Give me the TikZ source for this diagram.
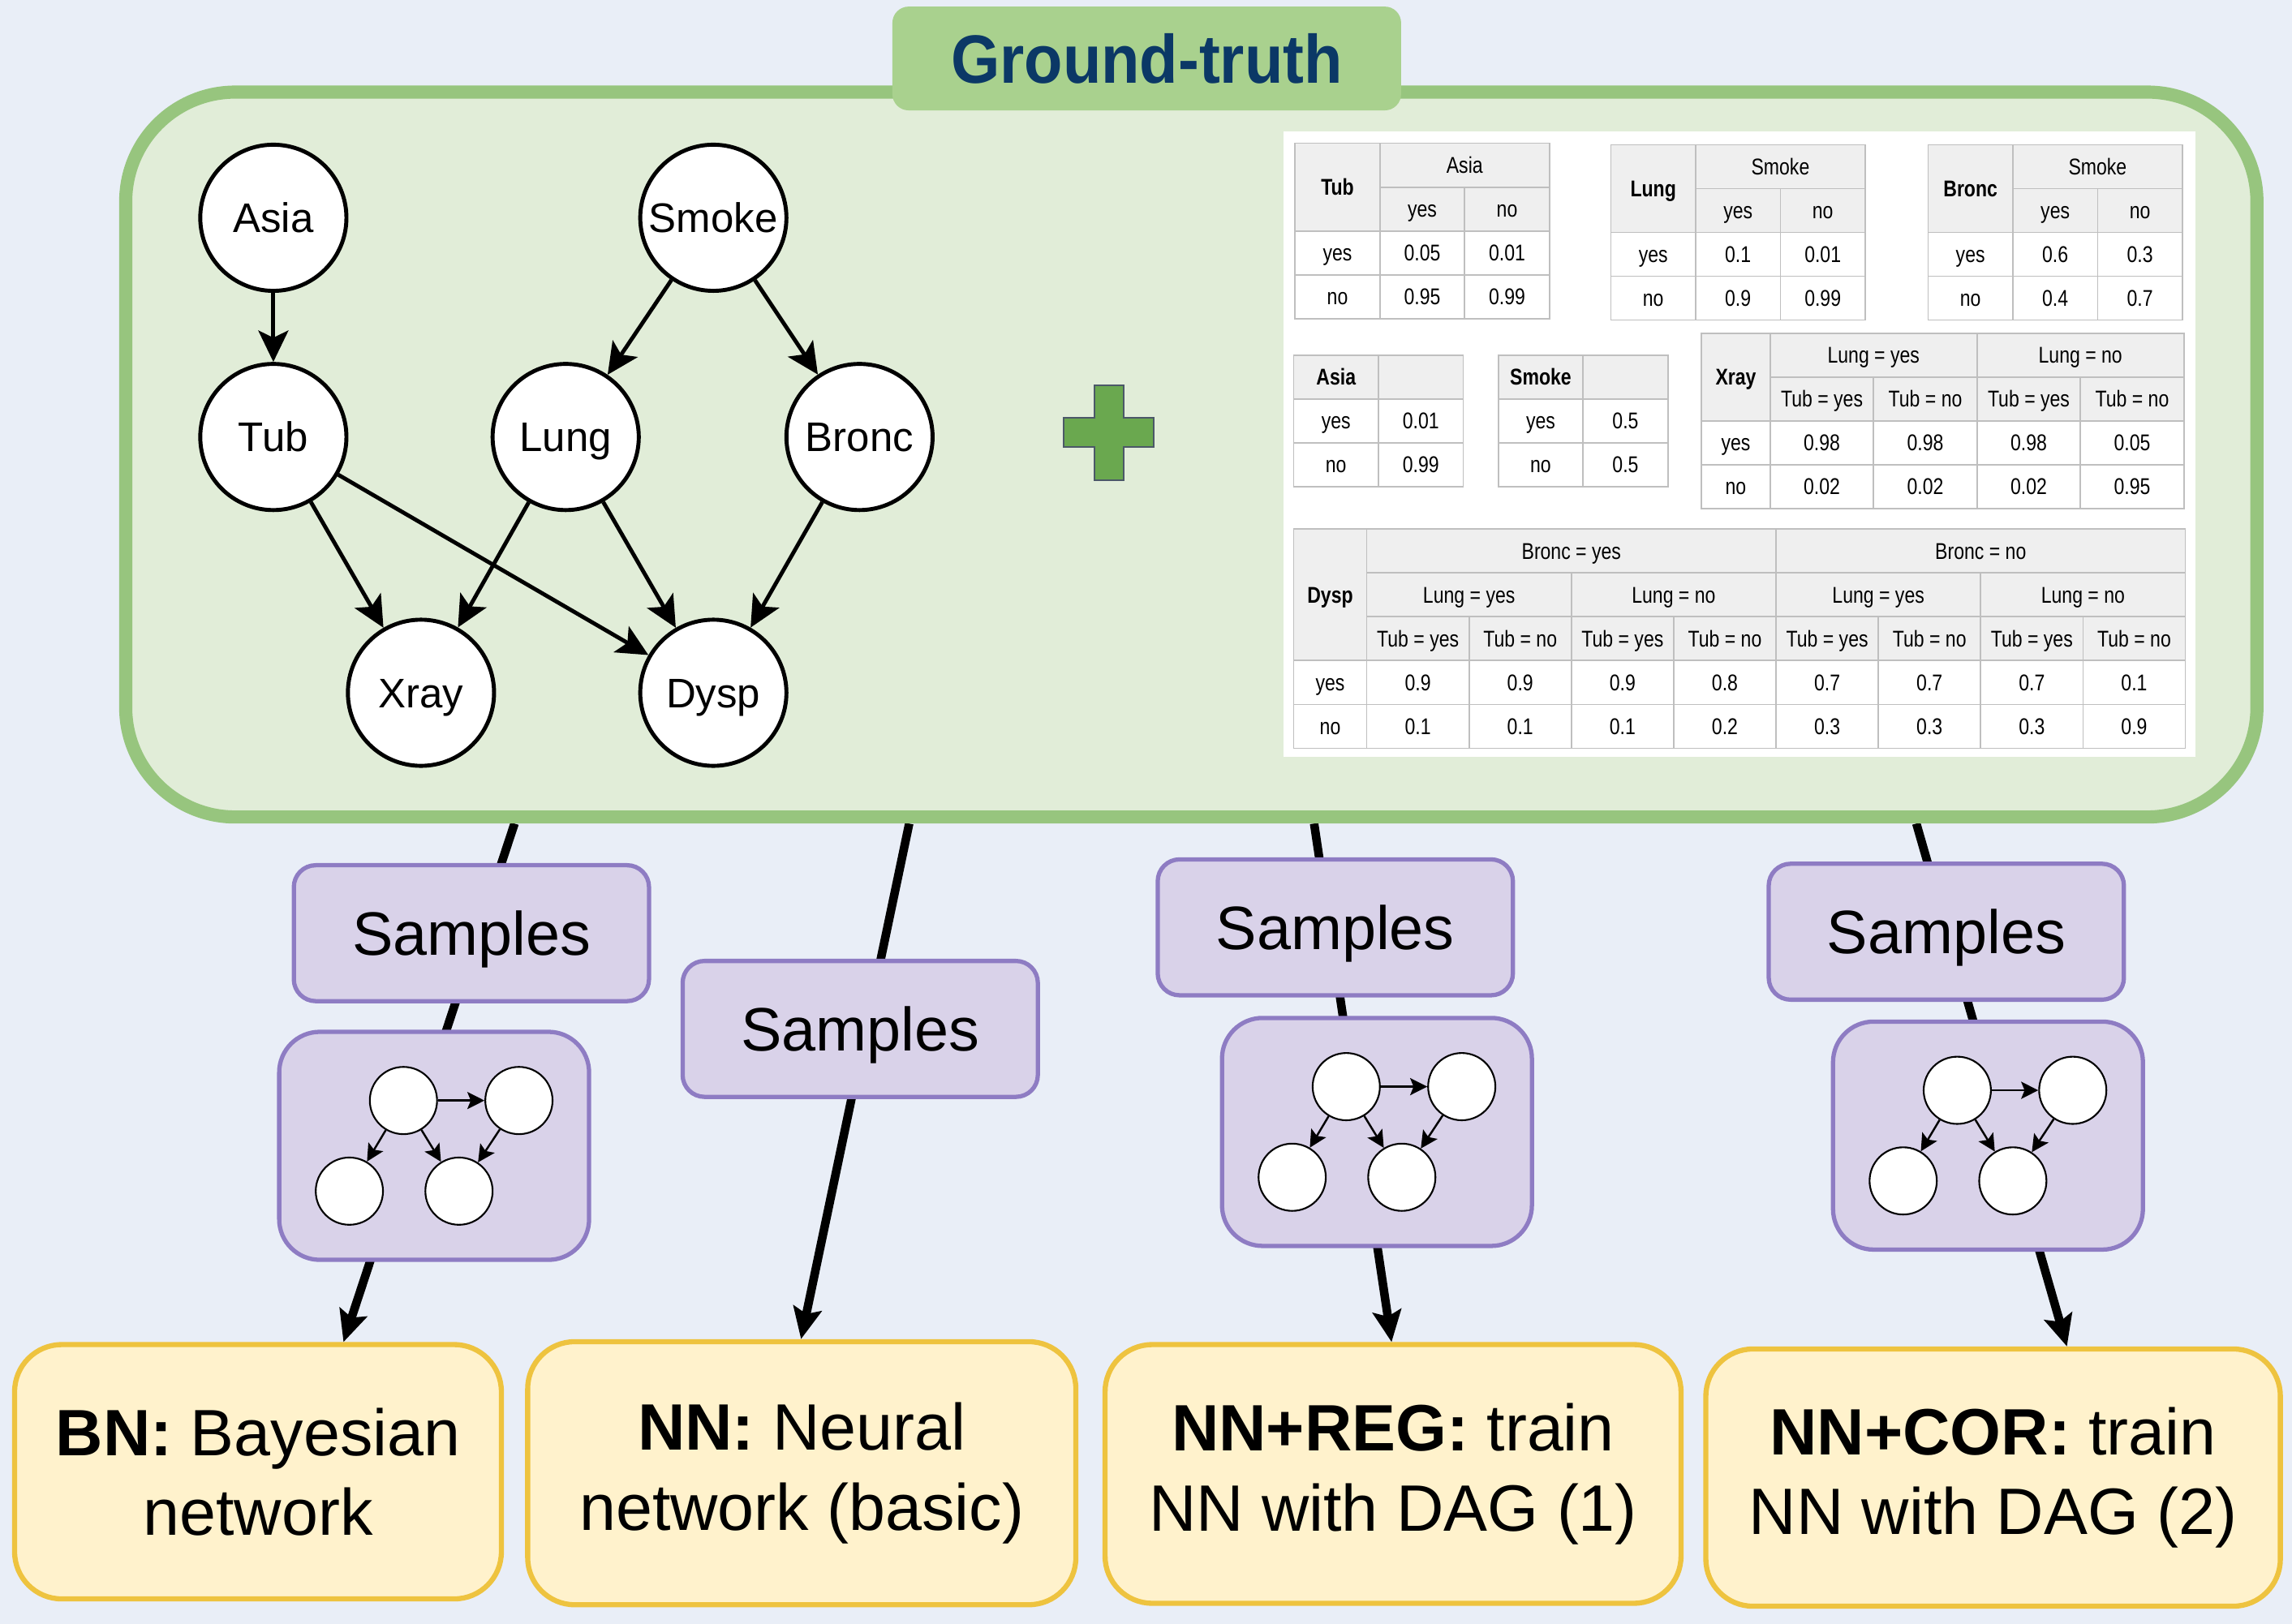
\documentclass[tikz,border=0pt]{standalone}
\usepackage{fontspec}
\setmainfont{Liberation Sans}
\newfontfamily\tabfont[FakeStretch=0.82]{Liberation Sans}
\newfontfamily\titlefont[FakeStretch=0.92]{Liberation Sans}
\usetikzlibrary{arrows.meta,backgrounds}

\definecolor{bgcol}{HTML}{E9EEF7}
\definecolor{gtfill}{HTML}{E1EDD8}
\definecolor{gtline}{HTML}{97C57E}
\definecolor{titlefill}{HTML}{A9D18E}
\definecolor{titletext}{HTML}{0B3866}
\definecolor{sampfill}{HTML}{D9D2E9}
\definecolor{sampline}{HTML}{8E7CC3}
\definecolor{resfill}{HTML}{FFF2CC}
\definecolor{resline}{HTML}{EEC33F}
\definecolor{plusgreen}{HTML}{6AA84F}
\definecolor{plusline}{HTML}{4B5868}
\definecolor{tabhead}{HTML}{EFEFEF}
\definecolor{tabgrid}{HTML}{BFBFBF}

% one shown pixel
\newlength{\px}\setlength{\px}{0.18017mm}
\newcount\cellno

% table cell: [fill]{x1}{y1}{x2}{y2}{text}
\newcommand{\tabcell}[6][white]{%
  \global\advance\cellno by 1
  \draw[tabgrid, line width=0.5pt, fill=#1] (#2,#3) rectangle (#4,#5);
  \node[tabtext] (cell\the\cellno) at ({(#2+#4)/2},{(#3+#5)/2}) {#6};}

% cpt with one parent: {x}{y}{child}{parent}{yes,yes}{yes,no}{no,yes}{no,no}
\newcommand{\cptone}[8]{%
  \tabcell[tabhead]{#1}{#2}{#1+58}{#2+60}{\bfseries #3}
  \tabcell[tabhead]{#1+58}{#2}{#1+174}{#2+30}{#4}
  \tabcell[tabhead]{#1+58}{#2+30}{#1+116}{#2+60}{yes}
  \tabcell[tabhead]{#1+116}{#2+30}{#1+174}{#2+60}{no}
  \tabcell{#1}{#2+60}{#1+58}{#2+90}{yes}
  \tabcell{#1+58}{#2+60}{#1+116}{#2+90}{#5}
  \tabcell{#1+116}{#2+60}{#1+174}{#2+90}{#6}
  \tabcell{#1}{#2+90}{#1+58}{#2+120}{no}
  \tabcell{#1+58}{#2+90}{#1+116}{#2+120}{#7}
  \tabcell{#1+116}{#2+90}{#1+174}{#2+120}{#8}}

% cpt of a root: {x}{y}{name}{yes}{no}
\newcommand{\cptroot}[5]{%
  \tabcell[tabhead]{#1}{#2}{#1+58}{#2+30}{\bfseries #3}
  \tabcell[tabhead]{#1+58}{#2}{#1+116}{#2+30}{}
  \tabcell{#1}{#2+30}{#1+58}{#2+60}{yes}
  \tabcell{#1+58}{#2+30}{#1+116}{#2+60}{#4}
  \tabcell{#1}{#2+60}{#1+58}{#2+90}{no}
  \tabcell{#1+58}{#2+60}{#1+116}{#2+90}{#5}}

\tikzset{
  minidag/.pic={
    \node[mini] (-a) at (-21,-31) {};
    \node[mini] (-b) at (58,-31) {};
    \node[mini] (-c) at (-58,31) {};
    \node[mini] (-d) at (17,31) {};
    \draw[miniarr] (-a) -- (-b);
    \draw[miniarr] (-a) -- (-c);
    \draw[miniarr] (-a) -- (-d);
    \draw[miniarr] (-b) -- (-d);
  }
}

\begin{document}
\begin{tikzpicture}[x=0.18017mm, y=-0.18017mm,
    tabtext/.style={font=\tabfont\fontsize{8}{9.6}\selectfont, inner sep=0pt, text height=5.7pt, text depth=0pt},
    bnnode/.style={circle, draw, line width=1.4pt, fill=white, minimum size=100*\px, inner sep=0pt, text height=10.4pt, text depth=0pt, font=\fontsize{14.5}{17}\selectfont},
    bnarr/.style={line width=1.4pt, -{Stealth[length=11pt, width=10.5pt, inset=2.5pt]}},
    mini/.style={circle, draw, line width=0.6pt, fill=white, minimum size=46*\px, inner sep=0pt},
    miniarr/.style={line width=0.7pt, -{Stealth[length=6pt, width=6pt, inset=1.2pt]}},
    gtbox/.style={draw=gtline, fill=gtfill, line width=4.6pt, rounded corners=13.5mm},
    titlebox/.style={fill=titlefill, rounded corners=2mm, text=titletext, font=\titlefont\bfseries\fontsize{24}{28}\selectfont},
    sampbox/.style={draw=sampline, fill=sampfill, line width=1.5pt, rounded corners=2.7mm, minimum width=243*\px, minimum height=93*\px, text height=15.4pt, text depth=0pt, font=\fontsize{21.5}{26}\selectfont},
    dagbox/.style={draw=sampline, fill=sampfill, line width=1.5pt, rounded corners=5mm, minimum width=212*\px, minimum height=156*\px},
    resbox/.style={draw=resline, fill=resfill, line width=1.8pt, rounded corners=5.8mm, align=center, font=\fontsize{23}{28}\selectfont},
    flow/.style={line width=3pt, -{Stealth[length=11pt, width=10pt, inset=2pt]}}]
\useasboundingbox (0,0) rectangle (1568,1111);

% ground truth panel
\node[gtbox, minimum width=1458*\px, minimum height=496*\px] (gt) at (815,311) {};
\node[titlebox, minimum width=348*\px, minimum height=71*\px] (title) at (784.5,40) {Ground-truth};
\fill[white] (878,90) rectangle (1502,518);

% the Asia network
\node[bnnode] (asia) at (187,149) {Asia};
\node[bnnode] (smoke) at (488,149) {Smoke};
\node[bnnode] (tub) at (187,299) {Tub};
\node[bnnode] (lung) at (387,299) {Lung};
\node[bnnode] (bronc) at (588,299) {Bronc};
\node[bnnode] (xray) at (288,474) {Xray};
\node[bnnode] (dysp) at (488,474) {Dysp};
\draw[bnarr] (asia) -- (tub);
\draw[bnarr] (smoke) -- (lung);
\draw[bnarr] (smoke) -- (bronc);
\draw[bnarr] (tub) -- (xray);
\draw[bnarr] (tub) -- (dysp);
\draw[bnarr] (lung) -- (xray);
\draw[bnarr] (lung) -- (dysp);
\draw[bnarr] (bronc) -- (dysp);

% plus sign
\filldraw[fill=plusgreen, draw=plusline, line width=0.6pt]
  (748.5,263.5) -- (768.5,263.5) -- (768.5,286) -- (789.5,286) -- (789.5,306)
  -- (768.5,306) -- (768.5,328.5) -- (748.5,328.5) -- (748.5,306) -- (727.5,306)
  -- (727.5,286) -- (748.5,286) -- cycle;

% probability tables
\cptone{886}{98}{Tub}{Asia}{0.05}{0.01}{0.95}{0.99}
\cptone{1102}{99}{Lung}{Smoke}{0.1}{0.01}{0.9}{0.99}
\cptone{1319}{99}{Bronc}{Smoke}{0.6}{0.3}{0.4}{0.7}
\cptroot{885}{243}{Asia}{0.01}{0.99}
\cptroot{1025}{243}{Smoke}{0.5}{0.5}

\tabcell[tabhead]{1164}{228}{1211}{288}{\bfseries Xray}
\tabcell[tabhead]{1211}{228}{1352.5}{258}{Lung = yes}
\tabcell[tabhead]{1352.5}{228}{1494}{258}{Lung = no}
\foreach \t [count=\i from 0] in {yes,no,yes,no}
  {\tabcell[tabhead]{1211+70.75*\i}{258}{1281.75+70.75*\i}{288}{Tub = \t}}
\tabcell{1164}{288}{1211}{318}{yes}
\foreach \v [count=\i from 0] in {0.98,0.98,0.98,0.05}
  {\tabcell{1211+70.75*\i}{288}{1281.75+70.75*\i}{318}{\v}}
\tabcell{1164}{318}{1211}{348}{no}
\foreach \v [count=\i from 0] in {0.02,0.02,0.02,0.95}
  {\tabcell{1211+70.75*\i}{318}{1281.75+70.75*\i}{348}{\v}}

\tabcell[tabhead]{885}{362}{935}{452}{\bfseries Dysp}
\tabcell[tabhead]{935}{362}{1215}{392}{Bronc = yes}
\tabcell[tabhead]{1215}{362}{1495}{392}{Bronc = no}
\foreach \l [count=\i from 0] in {yes,no,yes,no}
  {\tabcell[tabhead]{935+140*\i}{392}{1075+140*\i}{422}{Lung = \l}}
\foreach \t [count=\i from 0] in {yes,no,yes,no,yes,no,yes,no}
  {\tabcell[tabhead]{935+70*\i}{422}{1005+70*\i}{452}{Tub = \t}}
\tabcell{885}{452}{935}{482}{yes}
\foreach \v [count=\i from 0] in {0.9,0.9,0.9,0.8,0.7,0.7,0.7,0.1}
  {\tabcell{935+70*\i}{452}{1005+70*\i}{482}{\v}}
\tabcell{885}{482}{935}{512}{no}
\foreach \v [count=\i from 0] in {0.1,0.1,0.1,0.2,0.3,0.3,0.3,0.9}
  {\tabcell{935+70*\i}{482}{1005+70*\i}{512}{\v}}

% samples and learnt graphs
\node[sampbox] (s1) at (322.5,638.5) {Samples};
\node[sampbox] (s2) at (588.5,704) {Samples};
\node[sampbox] (s3) at (913.5,634.5) {Samples};
\node[sampbox] (s4) at (1331.5,637.5) {Samples};
\node[dagbox] (g1) at (297,784) {};
\node[dagbox] (g3) at (942,774.5) {};
\node[dagbox] (g4) at (1360,777) {};
\pic (d1) at (g1) {minidag};
\pic (d3) at (g3) {minidag};
\pic (d4) at (g4) {minidag};

% models
\node[resbox, minimum width=333*\px, minimum height=174*\px] (bn) at (176.5,1007) {\textbf{BN:} Bayesian\\network};
\node[resbox, minimum width=375*\px, minimum height=180*\px] (nn) at (548.5,1008) {\textbf{NN:} Neural\\network (basic)};
\node[resbox, minimum width=394*\px, minimum height=177*\px] (nnreg) at (953,1008.5) {\textbf{NN+REG:} train\\NN with DAG (1)};
\node[resbox, minimum width=393*\px, minimum height=176*\px] (nncor) at (1363.5,1011) {\textbf{NN+COR:} train\\NN with DAG (2)};

% flows, behind the boxes
\coordinate (f1) at (352,0);
\coordinate (f2) at (622,0);
\coordinate (f3) at (899,0);
\coordinate (f4) at (1311,0);
\coordinate (e1) at (235,0);
\coordinate (e2) at (548,0);
\coordinate (e3) at (952,0);
\coordinate (e4) at (1414,0);
\begin{scope}[on background layer]
  \fill[bgcol] (0,0) rectangle (1568,1111);
  \draw[flow] (gt.south -| f1) -- (bn.north -| e1);
  \draw[flow] (gt.south -| f2) -- (nn.north -| e2);
  \draw[flow] (gt.south -| f3) -- (nnreg.north -| e3);
  \draw[flow] (gt.south -| f4) -- (nncor.north -| e4);
\end{scope}
\end{tikzpicture}
\end{document}
